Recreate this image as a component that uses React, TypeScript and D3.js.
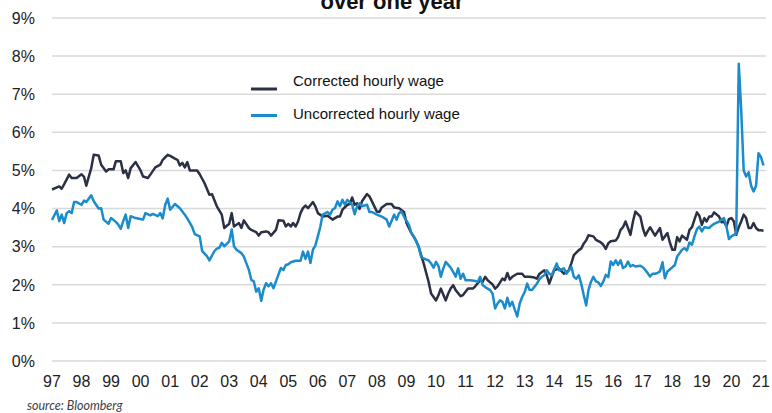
import * as d3 from 'd3';
import React from 'react';

const width = 772;
const height = 413;
const margin = { top: 18, right: 6, bottom: 52, left: 52 };
const dark = '#2b3044';
const blue = '#1b8ccb';
const grid = '#d9d9d9';
const font = 'Liberation Sans, Arial, sans-serif';

// months since Jan 1997
const correctedMonths = [
  0, 3, 4, 5, 7, 8, 10, 12, 13, 14, 16, 17, 19, 20, 22, 23, 25, 26, 28, 29, 30, 31, 32, 34, 36, 37, 39, 40, 42, 44,
  45, 47, 48, 50, 51, 52, 53, 54, 55, 56, 59, 60, 62, 64, 65, 67, 69, 70, 72, 73,
  74, 76, 77, 78, 80, 81, 83, 84, 85, 87, 88, 89, 91, 92, 94, 95, 96, 97, 98, 99, 100, 101, 102, 103, 104, 106, 107,
  108, 110, 112, 114, 116, 117, 118, 120, 121, 122, 123, 124, 125, 126, 128, 129, 130, 132, 133, 134, 136, 138, 139,
  141, 143, 144, 146,
  148, 149, 150, 151, 153, 154, 156, 157, 158, 160, 161, 162, 163, 164, 166, 167, 169, 171, 172, 174, 175, 176, 177,
  179, 180, 181, 183, 184, 185, 186, 187, 189, 191, 192, 194, 196, 197, 198, 200, 201, 202, 203, 204, 206, 207, 208,
  210, 211, 212, 214, 215, 216, 217, 218, 220,
  221, 223, 224, 225, 226, 227, 229, 230, 231, 232, 233, 234, 235, 236, 237, 239, 240, 241, 242, 243, 244, 245, 247,
  248, 250, 251, 252, 253, 254, 255, 256, 258, 259, 260, 261, 262, 263, 264, 265, 266, 267, 268, 269, 271, 272, 273,
  274, 275, 276, 277, 278, 279, 280, 281, 282, 283, 284, 285, 286, 287, 288, 289
];
const correctedValues = [
  4.5, 4.58, 4.52, 4.64, 4.89, 4.8, 4.8, 4.9, 4.83, 4.6, 5.06, 5.41, 5.39, 5.15, 4.97, 5.03, 5.03, 5.24, 5.24, 4.93,
  5.0, 4.8, 5.06, 5.22, 5.0, 4.84, 4.8, 4.89, 5.08, 5.15, 5.28, 5.41, 5.38, 5.31, 5.28, 5.13, 5.2, 5.08, 5.22, 5.0,
  5.0, 4.9, 4.67, 4.36, 4.38, 4.06, 3.84, 3.49, 3.6, 3.88,
  3.53, 3.62, 3.49, 3.69, 3.49, 3.44, 3.38, 3.29, 3.38, 3.4, 3.38, 3.29, 3.44, 3.69, 3.68, 3.53, 3.6, 3.53, 3.62,
  3.53, 3.66, 3.88, 4.01, 4.08, 4.01, 4.17, 4.06, 3.88, 3.79, 3.81, 3.71, 3.79, 3.79, 3.97, 4.1, 4.12, 4.29, 4.1,
  4.14, 3.99, 4.19, 4.38, 4.32, 4.19, 3.92, 3.91, 4.03, 4.12, 4.12, 4.03, 4.01, 3.91, 3.62, 3.36,
  3.15, 2.99, 2.78, 2.56, 2.08, 1.77, 1.59, 1.73, 1.9, 1.59, 1.77, 1.9, 1.99, 1.86, 1.7, 1.73, 1.9, 1.9, 1.96, 2.12,
  2.08, 2.21, 2.12, 2.01, 1.9, 1.96, 2.16, 2.12, 2.31, 2.14, 2.21, 2.29, 2.29, 2.21, 2.21, 2.19, 2.16, 2.28, 2.38,
  2.25, 2.03, 2.21, 2.38, 2.43, 2.36, 2.29, 2.38, 2.56, 2.78, 2.91, 2.95, 3.08, 3.17, 3.3, 3.27,
  3.18, 3.11, 3.05, 2.94, 3.09, 3.14, 3.16, 3.25, 3.44, 3.51, 3.66, 3.49, 3.31, 3.66, 3.92, 3.79, 3.49, 3.29, 3.4,
  3.51, 3.4, 3.29, 3.49, 3.18, 3.36, 3.11, 2.92, 2.92, 3.25, 3.14, 3.29, 3.18, 3.44, 3.51, 3.71, 3.9, 3.81, 3.57,
  3.75, 3.66, 3.79, 3.79, 3.9, 3.79, 3.64, 3.66, 3.53, 3.72, 3.75, 3.66, 3.31, 3.51, 3.66, 3.84, 3.75, 3.49, 3.49,
  3.62, 3.49, 3.43, 3.43, 3.42
];

const uncorrectedMonths = [
  0, 2, 3, 4, 5, 6, 7, 8, 9, 10, 12, 13, 14, 16, 17, 19, 20, 21, 23, 24, 26, 27, 28, 29, 30, 31, 32, 34, 35, 37, 38,
  40, 41, 43, 44, 45, 46, 47, 48, 50, 52, 54, 55, 57, 58, 60, 61, 63, 64, 66, 67, 68, 69, 70, 72, 73, 74,
  75, 77, 78, 80, 81, 82, 83, 84, 85, 86, 87, 88, 89, 90, 91, 93, 94, 95, 96, 97, 99, 101, 102, 103, 104, 105, 106,
  107, 108, 109, 110, 112, 113, 114, 115, 116, 117, 118, 119, 120, 122, 123, 124, 125, 126, 128, 129, 130, 132, 134,
  136, 137, 139, 140, 141, 142, 143, 145, 146, 147,
  149, 150, 151, 153, 154, 155, 156, 157, 158, 159, 160, 162, 163, 164, 165, 166, 167, 168, 170, 172, 173, 174, 175,
  176, 178, 179, 180, 181, 182, 183, 184, 185, 186, 187, 188, 189, 190, 191, 192, 193, 194, 195, 197, 198, 199, 200,
  201, 202, 203, 205, 206, 208, 209, 211, 212, 213, 214, 215, 216, 217, 218, 219, 220,
  221, 222, 223, 224, 225, 226, 227, 228, 229, 230, 231, 232, 233, 234, 235, 236, 237, 239, 240, 241, 243, 244, 245,
  246, 247, 248, 249, 250, 252, 253, 254, 255, 256, 257, 258, 259, 260, 261, 262, 263, 264, 265, 267, 268, 269, 271,
  272, 273, 274, 275, 276, 277, 278, 279, 280, 281, 282, 283, 284, 285, 286, 287, 288, 289
];
const uncorrectedValues = [
  3.7, 3.95, 3.67, 3.84, 3.62, 3.88, 3.93, 3.88, 4.17, 4.17, 4.1, 4.21, 4.17, 4.35, 4.19, 4.0, 4.01, 3.71, 3.6, 3.75,
  3.65, 3.58, 3.47, 3.67, 3.84, 3.49, 3.8, 3.75, 3.74, 3.71, 3.88, 3.82, 3.86, 3.8, 3.88, 3.74, 4.1, 4.26, 3.97,
  4.12, 4.01, 3.84, 3.74, 3.51, 3.33, 3.27, 2.88, 2.75, 2.64, 2.88, 2.95, 2.97, 3.1, 3.01, 3.14, 3.45, 3.01,
  2.92, 2.83, 2.74, 2.39, 2.13, 2.09, 1.82, 1.91, 1.58, 1.87, 2.04, 1.96, 2.04, 1.91, 2.09, 2.44, 2.39, 2.52, 2.54,
  2.59, 2.63, 2.63, 2.87, 2.68, 2.87, 2.57, 2.92, 3.03, 3.27, 3.53, 3.84, 3.91, 3.84, 3.97, 4.01, 4.19, 4.06, 4.23,
  4.1, 4.23, 4.1, 3.85, 4.06, 4.14, 4.06, 4.1, 3.91, 3.91, 3.84, 3.79, 3.71, 3.53, 3.84, 3.71, 3.88, 3.92, 3.79,
  3.57, 3.36, 3.27,
  3.0, 2.73, 2.69, 2.64, 2.56, 2.45, 2.6, 2.49, 2.21, 2.43, 2.6, 2.45, 2.34, 2.21, 2.43, 2.16, 2.29, 2.12, 2.12, 2.1,
  2.08, 2.21, 1.99, 1.94, 1.86, 1.77, 1.38, 1.51, 1.59, 1.55, 1.38, 1.66, 1.44, 1.55, 1.35, 1.17, 1.51, 1.68, 1.81,
  2.03, 1.87, 1.86, 2.03, 2.14, 2.21, 2.25, 2.38, 2.29, 2.25, 2.56, 2.38, 2.43, 2.29, 2.47, 2.21, 2.16, 2.25, 2.03,
  1.73, 1.46, 1.86, 2.08, 2.21,
  2.09, 2.06, 1.97, 2.09, 2.26, 2.2, 2.61, 2.52, 2.64, 2.52, 2.64, 2.44, 2.48, 2.61, 2.48, 2.52, 2.48, 2.5, 2.46,
  2.39, 2.22, 2.29, 2.29, 2.31, 2.35, 2.59, 2.17, 2.35, 2.46, 2.52, 2.74, 2.83, 2.92, 2.96, 2.9, 3.11, 3.05, 3.27,
  3.46, 3.53, 3.4, 3.51, 3.49, 3.55, 3.6, 3.66, 3.71, 3.75, 3.53, 3.2, 3.27, 3.31, 3.35, 7.8, 6.6, 5.0, 4.84, 4.95,
  4.6, 4.45, 4.6, 5.45, 5.35, 5.13
];

const yTicks = [0, 1, 2, 3, 4, 5, 6, 7, 8, 9];
const yearTicks = d3.range(1997, 2022);

const legendItems = [
  { label: 'Corrected hourly wage', color: dark },
  { label: 'Uncorrected hourly wage', color: blue }
];

const start = new Date(1997, 0, 1);
const toSeries = (months: number[], values: number[]) =>
  months.map((m, i) => ({ date: d3.timeMonth.offset(start, m), value: values[i] }));

const xScale = d3
  .scaleTime()
  .domain([new Date(1997, 0, 1), new Date(2021, 0, 1)])
  .range([margin.left, 761]);
const yScale = d3
  .scaleLinear()
  .domain([0, 9])
  .range([height - margin.bottom, margin.top]);

const lineGenerator = d3
  .line<{ date: Date; value: number }>()
  .x(d => xScale(d.date))
  .y(d => yScale(d.value));

export default function App() {
  const corrected = lineGenerator(toSeries(correctedMonths, correctedValues));
  const uncorrected = lineGenerator(toSeries(uncorrectedMonths, uncorrectedValues));

  return (
    <svg
      width={width}
      height={height}
      style={{ position: 'absolute', left: 0, top: 0, background: '#fff' }}
      fontFamily={font}
    >
      {/* gridlines */}
      {yTicks.map(t => (
        <line
          key={t}
          x1={margin.left}
          x2={width - margin.right}
          y1={yScale(t)}
          y2={yScale(t)}
          stroke={grid}
          strokeWidth={1.5}
        />
      ))}
      {yTicks.map(t => (
        <text key={t} x={35} y={yScale(t)} dy="0.36em" textAnchor="end" fontSize={16} fill="#222">
          {t}%
        </text>
      ))}
      {yearTicks.map(y => (
        <text key={y} x={xScale(new Date(y, 0, 1))} y={387} textAnchor="middle" fontSize={16} fill="#222">
          {d3.timeFormat('%y')(new Date(y, 0, 1))}
        </text>
      ))}

      <path d={corrected} fill="none" stroke={dark} strokeWidth={2.5} strokeLinejoin="round" />
      <path d={uncorrected} fill="none" stroke={blue} strokeWidth={2.5} strokeLinejoin="round" />

      {/* legend */}
      {legendItems.map((d, i) => (
        <g key={d.label}>
          <line x1={251} x2={277} y1={89 + i * 26.5} y2={89 + i * 26.5} stroke={d.color} strokeWidth={3} />
          <text x={293} y={86 + i * 33} fontSize={15} fill="#111">
            {d.label}
          </text>
        </g>
      ))}

      <text x={392} y={8.5} textAnchor="middle" fontSize={22} fontWeight="bold" fill="#111">
        over one year
      </text>
      <text x={27} y={410} fontSize={12.5} fontStyle="italic" fill="#404040" fontFamily="Lato, sans-serif">
        source: Bloomberg
      </text>
    </svg>
  );
}
